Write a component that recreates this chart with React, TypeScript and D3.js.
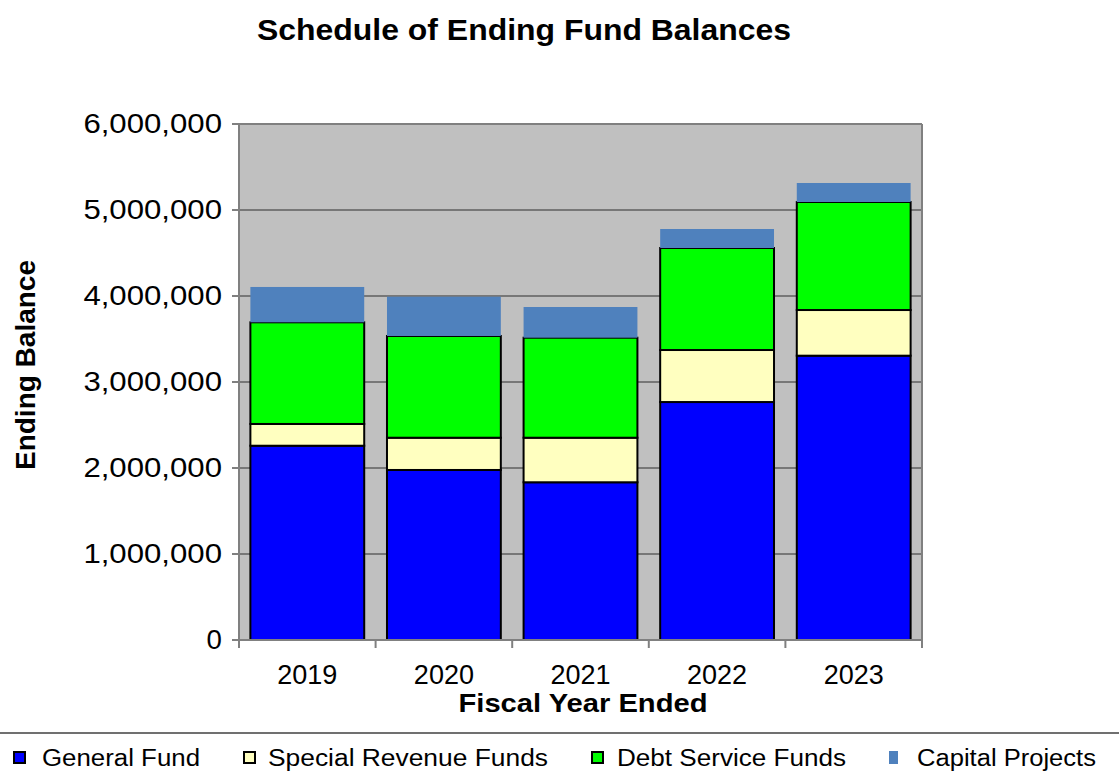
import React from "react";
import * as d3 from "d3";

const years = ["2019", "2020", "2021", "2022", "2023"];
const generalFund = [2259000, 1977000, 1834000, 2767000, 3306000];
const specialRevenue = [253000, 375000, 518000, 605000, 531000];
const debtService = [1182000, 1183000, 1163000, 1186000, 1256000];
const capitalProjects = [411000, 457000, 357000, 221000, 221000];
const seriesNames = ["General Fund", "Special Revenue Funds", "Debt Service Funds", "Capital Projects"];
const yTicks = [0, 1000000, 2000000, 3000000, 4000000, 5000000, 6000000];

const colors = ["#0000FF", "#FFFFC0", "#00FF00", "#4F81BD"];
const strokes = ["#000", "#000", "#000", "none"];

const W = 1119, H = 777;
const plot = { left: 239, right: 922, top: 124, bottom: 640 };
const FONT = "'Liberation Sans', Arial, sans-serif";

export default function App() {
  const x = d3.scaleBand<string>().domain(years).range([plot.left, plot.right]).paddingInner(1 / 6).paddingOuter(1 / 12);
  const y = d3.scaleLinear().domain([0, 6000000]).range([plot.bottom, plot.top]);
  const rows = years.map((yr, i) => ({
    year: yr,
    g: generalFund[i],
    s: specialRevenue[i],
    d: debtService[i],
    c: capitalProjects[i],
  }));
  const stack = d3.stack<any>().keys(["g", "s", "d", "c"]);
  const layers = stack(rows);
  const fmt = d3.format(",");
  const step = x.step();
  const boundaries = d3.range(years.length + 1).map((i) => plot.left + i * step);

  const legendX = [13, 243, 591, 889];
  const legendTextX = [42, 268, 617, 917];
  const legendTextW = [158, 280, 229, 179];

  return (
    <svg width={W} height={H} style={{ display: "block", position: "absolute", left: 0, top: 0 }} fontFamily={FONT}>
      <rect x={0} y={0} width={W} height={H} fill="#fff" />
      <text x={257} y={40} fontSize={30} fontWeight="bold" textLength={534} lengthAdjust="spacingAndGlyphs">
        Schedule of Ending Fund Balances
      </text>
      {/* plot background */}
      <rect x={plot.left} y={plot.top} width={plot.right - plot.left} height={plot.bottom - plot.top} fill="#C0C0C0" />
      {/* gridlines */}
      {yTicks.slice(1, -1).map((t) => (
        <line key={t} x1={plot.left} x2={plot.right} y1={y(t)} y2={y(t)} stroke="#5f5f5f" strokeWidth={1.5} />
      ))}
      {/* plot border top/right */}
      <line x1={plot.left} x2={plot.right} y1={plot.top} y2={plot.top} stroke="#808080" strokeWidth={2} />
      <line x1={plot.right} x2={plot.right} y1={plot.top} y2={plot.bottom} stroke="#808080" strokeWidth={2} />
      {/* bars */}
      {layers.map((layer, li) =>
        layer.map((d, i) => (
          <rect
            key={li + "-" + i}
            x={x(years[i])!}
            y={y(d[1])}
            width={x.bandwidth()}
            height={y(d[0]) - y(d[1])}
            fill={colors[li]}
            stroke={strokes[li]}
            strokeWidth={2}
          />
        ))
      )}
      {/* axes */}
      <line x1={plot.left} x2={plot.left} y1={plot.top} y2={plot.bottom} stroke="#808080" strokeWidth={2} />
      <line x1={plot.left - 1} x2={plot.right + 1} y1={plot.bottom} y2={plot.bottom} stroke="#808080" strokeWidth={2} />
      {yTicks.map((t) => (
        <g key={t}>
          <line x1={plot.left - 7} x2={plot.left} y1={y(t)} y2={y(t)} stroke="#808080" strokeWidth={2} />
          <text
            x={222}
            y={y(t) + 9}
            fontSize={27}
            textAnchor="end"
            textLength={fmt(t).length * 15.4}
            lengthAdjust="spacingAndGlyphs"
          >
            {fmt(t)}
          </text>
        </g>
      ))}
      {boundaries.map((b, i) => (
        <line key={i} x1={b} x2={b} y1={plot.bottom} y2={plot.bottom + 8} stroke="#808080" strokeWidth={2} />
      ))}
      {years.map((yr) => (
        <text key={yr} x={x(yr)! + x.bandwidth() / 2} y={684} fontSize={27} textAnchor="middle">
          {yr}
        </text>
      ))}
      <text x={583} y={712} fontSize={25} fontWeight="bold" textAnchor="middle" textLength={249} lengthAdjust="spacingAndGlyphs">
        Fiscal Year Ended
      </text>
      <text
        transform="translate(35,365) rotate(-90)"
        fontSize={27}
        fontWeight="bold"
        textAnchor="middle"
        textLength={210}
        lengthAdjust="spacingAndGlyphs"
      >
        Ending Balance
      </text>
      {/* legend */}
      <line x1={0} x2={W} y1={733} y2={733} stroke="#707070" strokeWidth={2} />
      {seriesNames.map((name, i) => (
        <g key={name}>
          {i < 3 ? (
            <rect x={legendX[i] + 1} y={752} width={11} height={11} fill={colors[i]} stroke="#000" strokeWidth={2} />
          ) : (
            <rect x={legendX[i]} y={751} width={9} height={13} fill={colors[i]} />
          )}
          <text x={legendTextX[i]} y={766} fontSize={23} textLength={legendTextW[i]} lengthAdjust="spacingAndGlyphs">
            {name}
          </text>
        </g>
      ))}
    </svg>
  );
}
